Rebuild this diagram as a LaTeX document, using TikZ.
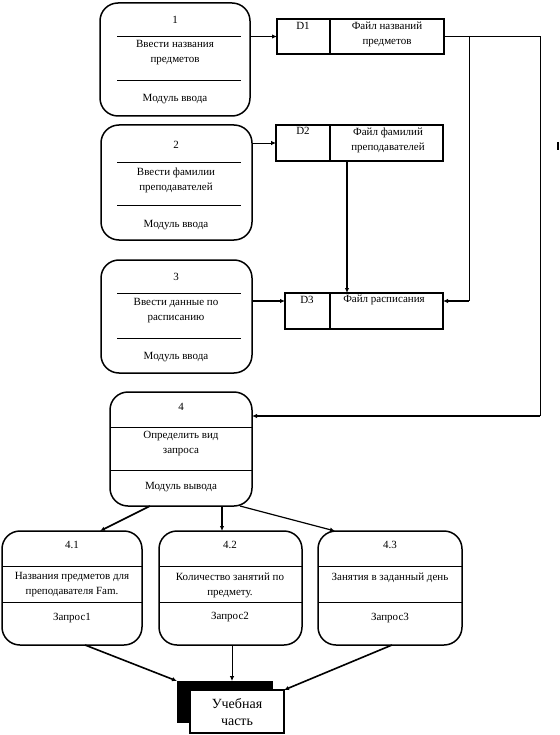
\documentclass[tikz,border=0pt]{standalone}
\usepackage{fontspec}
\setmainfont{Liberation Serif}
\usetikzlibrary{arrows.meta}
\begin{document}
\begin{tikzpicture}[x=1pt,y=-1pt,
  proc/.style={draw, line width=1.5pt, rounded corners=18pt, anchor=north west, inner sep=0pt, outer sep=0pt},
  store/.style={draw, line width=1.5pt, anchor=north west, inner sep=0pt, outer sep=0pt},
  sep/.style={line width=0.9pt},
  txt/.style={font=\fontsize{11}{15}\selectfont, align=center, inner sep=0pt},
  thin/.style={line width=0.8pt},
  thk/.style={line width=1.6pt},
  arr/.style={-{Latex[length=5pt,width=4.5pt]}}]
\useasboundingbox (0,0) rectangle (559,735);

% ---- process 1
\node[proc, minimum width=150pt, minimum height=113pt] (p1) at (100,3) {};
\draw[sep] (117,36) -- (241,36);
\draw[sep] (117,80) -- (241,80);
\node[txt] (p1n) at (175,20) {1};
\node[txt] (p1t) at (175,53) {Ввести названия\\предметов};
\node[txt] (p1m) at (175,99) {Модуль ввода};

% ---- process 2
\node[proc, minimum width=151pt, minimum height=115pt] (p2) at (101,125) {};
\draw[sep] (117,162) -- (241,162);
\draw[sep] (117,205) -- (241,205);
\node[txt] (p2n) at (176,145) {2};
\node[txt] (p2t) at (176,180) {Ввести фамилии\\преподавателей};
\node[txt] (p2m) at (176,225) {Модуль ввода};

% ---- process 3
\node[proc, minimum width=151pt, minimum height=113pt] (p3) at (101,260) {};
\draw[sep] (117,293) -- (241,293);
\draw[sep] (117,338) -- (241,338);
\node[txt] (p3n) at (176,277) {3};
\node[txt] (p3t) at (176,311) {Ввести данные по\\расписанию};
\node[txt] (p3m) at (176,357) {Модуль ввода};

% ---- process 4
\node[proc, minimum width=142pt, minimum height=114pt] (p4) at (110,392) {};
\draw[sep] (p4.west |- 0,427) -- (p4.east |- 0,427);
\draw[sep] (p4.west |- 0,470) -- (p4.east |- 0,470);
\node[txt] (p4n) at (181,407) {4};
\node[txt] (p4t) at (181,444) {Определить вид\\запроса};
\node[txt] (p4m) at (181,487) {Модуль вывода};

% ---- sub processes
\node[proc, minimum width=140pt, minimum height=114pt] (q1) at (2,531) {};
\node[proc, minimum width=143pt, minimum height=114pt] (q2) at (159,531) {};
\node[proc, minimum width=144pt, minimum height=114pt] (q3) at (318,531) {};
\foreach \q in {q1,q2,q3}{
  \draw[sep] (\q.west |- 0,566) -- (\q.east |- 0,566);
  \draw[sep] (\q.west |- 0,602) -- (\q.east |- 0,602);
}
\node[txt] (q1n) at (72,545) {4.1};
\node[txt] (q1t) at (72,585) {Названия предметов для\\преподавателя Fam.};
\node[txt] (q1m) at (72,618) {Запрос1};
\node[txt] (q2n) at (230,545) {4.2};
\node[txt] (q2t) at (230,585) {Количество занятий по\\предмету.};
\node[txt] (q2m) at (230,617) {Запрос2};
\node[txt] (q3n) at (390,545) {4.3};
\node[txt] (q3t) at (390,578) {Занятия в заданный день};
\node[txt] (q3m) at (390,618) {Запрос3};

% ---- data stores
\node[store, minimum width=167pt, minimum height=35pt] (d1) at (277,19) {};
\draw[thk] (330,19) -- (330,54);
\node[txt] (d1i) at (303,26) {D1};
\node[txt] (d1t) at (387,34) {Файл названий\\предметов};

\node[store, minimum width=167pt, minimum height=36pt] (d2) at (276,125) {};
\draw[thk] (330,125) -- (330,161);
\node[txt] (d2i) at (303,131) {D2};
\node[txt] (d2t) at (388,140) {Файл фамилий\\преподавателей};

\node[store, minimum width=158pt, minimum height=36pt] (d3) at (285,293) {};
\draw[thk] (330,293) -- (330,329);
\node[txt] (d3i) at (307,300) {D3};
\node[txt] (d3t) at (384,300) {Файл расписания};

% ---- Учебная часть
\node[fill=black, draw, anchor=north west, minimum width=95pt, minimum height=41pt, inner sep=0pt, outer sep=0pt] (sh) at (177,681) {};
\node[draw, fill=white, line width=1.2pt, anchor=north west, minimum width=94pt, minimum height=43pt, inner sep=0pt, outer sep=0pt] (uch) at (190,690) {};
\node[font=\fontsize{14}{17}\selectfont, align=center, inner sep=0pt] (ucht) at (237,712) {Учебная\\часть};

% ---- connectors
\draw[thk,arr] (p1.east |- d1.west) -- (d1.west);
\draw[thin,arr] (p2.east |- d2.west) -- (d2.west);
\coordinate (d3l) at ([yshift=10pt]d3.west);
\coordinate (d3r) at ([yshift=10pt]d3.east);
\draw[thk,arr] (p3.east |- d3l) -- (d3l);
\draw[thk,arr] ([xshift=-12.5pt]d2.south) -- ([xshift=-12.5pt]d2.south |- d3.north);

\coordinate (ja) at (469,36);
\coordinate (jb) at (540,36);
\coordinate (jc) at (540,416);
\draw[thin] (d1.east |- ja) -- (jb) -- (jc);
\draw[thin] (ja) -- (ja |- d3r);
\draw[thk,arr] (ja |- d3r) -- (d3r);
\draw[thk,arr] (jc) -- (p4.east |- jc);

\draw[thk,arr] ([xshift=-31pt]p4.south) -- ([xshift=28pt]q1.north);
\draw[thk,arr] ([xshift=41pt]p4.south) -- ([xshift=41pt]p4.south |- q2.north);
\draw[line width=1.2pt,arr] ([xshift=59pt]p4.south) -- ([xshift=-55pt]q3.north);

\draw[thk,arr] ([xshift=13pt]q1.south) -- (sh.north west);
\draw[thin,arr] ([xshift=1.5pt]q2.south) -- ([xshift=1.5pt]q2.south |- sh.north);
\draw[thk,arr] ([xshift=2pt]q3.south) -- (uch.north east);

% stray mark at right edge
\draw[line width=1.2pt] (558,142) -- (558,150);
\end{tikzpicture}
\end{document}
